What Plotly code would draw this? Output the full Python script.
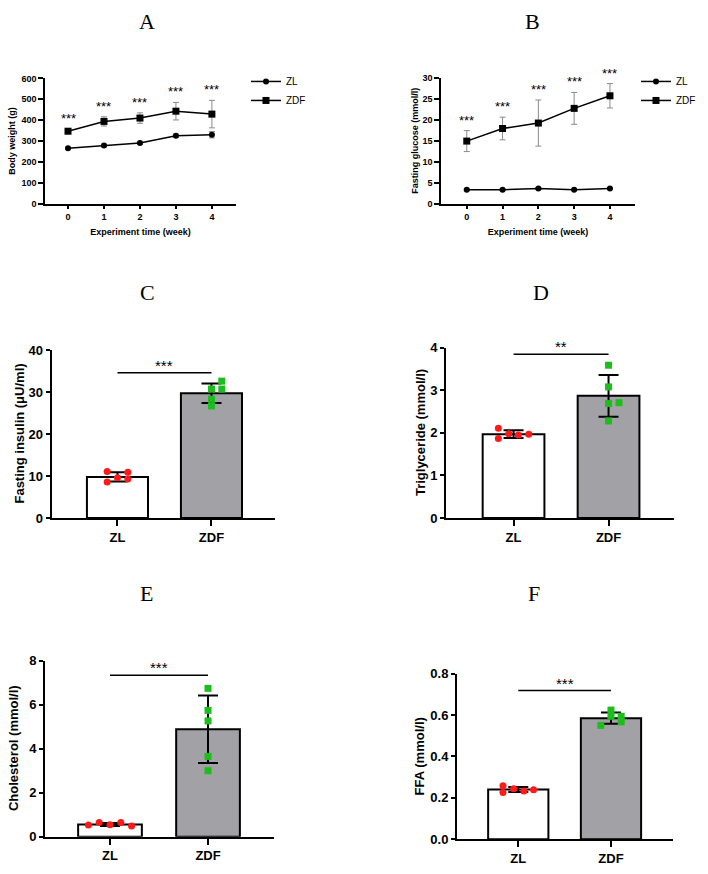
import plotly.graph_objects as go

W, H = 708, 874

# ---- A: body weight (g) by week
weeks = [0, 1, 2, 3, 4]
bw_zl = [265, 278, 290, 325, 330]
bw_zl_sd = [5, 6, 6, 8, 15]
bw_zdf = [347, 394, 410, 443, 429]
bw_zdf_sd = [11, 22, 25, 42, 66]

# ---- B: fasting glucose (mmol/l) by week
glu_zl = [3.3, 3.3, 3.6, 3.3, 3.6]
glu_zl_sd = [0.2, 0.2, 0.2, 0.2, 0.2]
glu_zdf = [14.9, 17.9, 19.2, 22.7, 25.7]
glu_zdf_sd = [2.5, 2.7, 5.5, 3.8, 2.9]

groups = ["ZL", "ZDF"]

# ---- C: fasting insulin (uU/ml)
ins_mean = [9.8, 29.7]
ins_sd = [1.1, 2.3]
ins_zl = [11.1, 10.9, 9.6, 9.3, 8.6]
ins_zdf = [32.6, 30.7, 30.7, 28.3, 26.7]
ins_sig = 34.6

# ---- D: triglyceride (mmol/l)
tg_mean = [1.97, 2.87]
tg_sd = [0.09, 0.49]
tg_zl = [2.11, 1.98, 1.95, 1.97, 1.87]
tg_zdf = [3.59, 3.08, 2.69, 2.71, 2.28]
tg_sig = 3.85

# ---- E: cholesterol (mmol/l)
ch_mean = [0.56, 4.88]
ch_sd = [0.07, 1.53]
ch_zl = [0.54, 0.65, 0.55, 0.65, 0.49]
ch_zdf = [6.74, 5.74, 5.26, 3.65, 3.00]
ch_sig = 7.33

# ---- F: FFA (mmol/l)
ffa_mean = [0.24, 0.585]
ffa_sd = [0.012, 0.027]
ffa_zl = [0.258, 0.244, 0.225, 0.233, 0.239]
ffa_zdf = [0.624, 0.594, 0.594, 0.550, 0.567]
ffa_sig = 0.718

FONT = "Liberation Sans, Arial, sans-serif"
SERIF = "Liberation Serif, Times New Roman, serif"
ZDF_GREY = "#a2a2a6"
RED = "#ff1a1a"
GREEN = "#1dbd1d"


def dom_x(a, b):
    return [a / W, b / W]


def dom_y(top, bottom):
    return [1 - bottom / H, 1 - top / H]


fig = go.Figure()

# ---------------- line panels ----------------
line_panels = [
    # axis id, zl, zl sd, zdf, zdf sd, legend
    ("", bw_zl, bw_zl_sd, bw_zdf, bw_zdf_sd, "legend"),
    ("2", glu_zl, glu_zl_sd, glu_zdf, glu_zdf_sd, "legend2"),
]
for ax, zl, zl_sd, zdf, zdf_sd, leg in line_panels:
    fig.add_trace(go.Scatter(
        x=weeks, y=zl, name="ZL", mode="lines+markers",
        line=dict(color="black", width=1.5),
        marker=dict(symbol="circle", size=6, color="black"),
        error_y=dict(type="data", array=zl_sd, color="#8a8a8a", thickness=1, width=3),
        xaxis="x" + ax, yaxis="y" + ax, legend=leg, cliponaxis=False))
    fig.add_trace(go.Scatter(
        x=weeks, y=zdf, name="ZDF", mode="lines+markers",
        line=dict(color="black", width=1.5),
        marker=dict(symbol="square", size=7, color="black"),
        error_y=dict(type="data", array=zdf_sd, color="#8a8a8a", thickness=1, width=3),
        xaxis="x" + ax, yaxis="y" + ax, legend=leg, cliponaxis=False))
    for wk, m, s in zip(weeks, zdf, zdf_sd):
        fig.add_annotation(x=wk, y=m + s, xref="x" + ax, yref="y" + ax,
                           text="***", showarrow=False, yanchor="bottom", yshift=1,
                           font=dict(family=FONT, size=13, color="black"))

# ---------------- bar panels ----------------
bar_panels = [
    ("3", ins_mean, ins_sd, ins_zl, ins_zdf, ins_sig, "***",
     [-0.11, 0.11, 0, 0.11, -0.11], [0.11, 0, 0.11, 0, 0]),
    ("4", tg_mean, tg_sd, tg_zl, tg_zdf, tg_sig, "**",
     [-0.16, -0.05, 0.05, 0.16, -0.16], [0, 0, 0, 0.11, 0]),
    ("5", ch_mean, ch_sd, ch_zl, ch_zdf, ch_sig, "***",
     [-0.22, -0.11, 0, 0.11, 0.22], [0, 0, 0, 0, 0]),
    ("6", ffa_mean, ffa_sd, ffa_zl, ffa_zdf, ffa_sig, "***",
     [-0.165, -0.05, -0.165, 0.06, 0.165], [0, 0, 0.11, -0.11, 0.11]),
]
for ax, mean, sd, zl, zdf, sig, stars, jit_zl, jit_zdf in bar_panels:
    xs = list(range(len(groups)))
    fig.add_trace(go.Bar(
        x=xs, y=mean, width=0.65, showlegend=False,
        marker=dict(color=["white", ZDF_GREY], line=dict(color="black", width=2)),
        error_y=dict(type="data", array=sd, color="black", thickness=2, width=10),
        xaxis="x" + ax, yaxis="y" + ax))
    fig.add_trace(go.Scatter(
        x=[0 + j for j in jit_zl], y=zl, mode="markers", showlegend=False,
        marker=dict(symbol="circle", size=7, color=RED),
        xaxis="x" + ax, yaxis="y" + ax, cliponaxis=False))
    fig.add_trace(go.Scatter(
        x=[1 + j for j in jit_zdf], y=zdf, mode="markers", showlegend=False,
        marker=dict(symbol="square", size=7, color=GREEN),
        xaxis="x" + ax, yaxis="y" + ax, cliponaxis=False))
    fig.add_trace(go.Scatter(
        x=xs, y=[sig, sig], mode="lines", showlegend=False,
        line=dict(color="black", width=1.5),
        xaxis="x" + ax, yaxis="y" + ax, cliponaxis=False))
    fig.add_annotation(x=0.5, y=sig, xref="x" + ax, yref="y" + ax,
                       text=stars, showarrow=False, yanchor="bottom", yshift=-3,
                       font=dict(family=FONT, size=15, color="black"))

# ---------------- axes ----------------
small_tick = dict(family=FONT, size=9, color="black", weight="bold")
big_tick = dict(family=FONT, size=13, color="black", weight="bold")
common = dict(showgrid=False, zeroline=False, showline=True, linecolor="black",
              ticks="outside", tickcolor="black")

fig.update_layout(
    xaxis=dict(common, domain=dom_x(45, 236), range=[-0.64, 4.67], tickvals=weeks,
               ticklen=4, linewidth=1.5, tickwidth=1.5, tickfont=small_tick, anchor="y",
               title=dict(text="Experiment time (week)", font=small_tick, standoff=8)),
    yaxis=dict(common, domain=dom_y(72.7, 200), range=[0, 600], dtick=100,
               ticklen=5, linewidth=1.5, tickwidth=1.5, tickfont=small_tick, anchor="x"),
    xaxis2=dict(common, domain=dom_x(441, 635), range=[-0.72, 4.70], tickvals=weeks,
                ticklen=4, linewidth=1.5, tickwidth=1.5, tickfont=small_tick, anchor="y2",
                title=dict(text="Experiment time (week)", font=small_tick, standoff=8)),
    yaxis2=dict(common, domain=dom_y(72, 200), range=[0, 30], dtick=5,
                ticklen=5, linewidth=1.5, tickwidth=1.5, tickfont=small_tick, anchor="x2"),
)

bar_axes = [
    ("3", dom_x(51.5, 275), [-0.702, 1.676], dom_y(349, 520), [0, 40], 10, None),
    ("4", dom_x(446, 674), [-0.711, 1.689], dom_y(346.7, 520), [0, 4], 1, None),
    ("5", dom_x(45, 274), [-0.663, 1.673], dom_y(665, 844.3), [0, 8], 2, None),
    ("6", dom_x(457, 673), [-0.661, 1.669], dom_y(678.3, 846.7), [0, 0.8], 0.2, ".1f"),
]
for ax, xd, xr, yd, yr, dt, fmt in bar_axes:
    fig.update_layout({
        "xaxis" + ax: dict(common, domain=xd, range=xr, tickvals=[0, 1], ticktext=groups,
                           ticklen=6, linewidth=2, tickwidth=2, tickfont=big_tick,
                           anchor="y" + ax),
        "yaxis" + ax: dict(common, domain=yd, range=yr, dtick=dt, tickformat=fmt,
                           ticklen=4, linewidth=2, tickwidth=2, tickfont=big_tick,
                           anchor="x" + ax),
    })

# y-axis titles, placed beside each panel
y_titles = [
    ("Body weight (g)", 12, 136, small_tick),
    ("Fasting glucose (mmol/l)", 415, 136, small_tick),
    ("Fasting insulin (μU/ml)", 19.5, 434.5, big_tick),
    ("Triglyceride (mmol/l)", 420, 433.5, big_tick),
    ("Cholesterol (mmol/l)", 13.5, 754.5, big_tick),
    ("FFA (mmol/l)", 419, 762.5, big_tick),
]
for txt, px, py, f in y_titles:
    fig.add_annotation(x=px / W, y=1 - py / H, xref="paper", yref="paper",
                       text=txt, textangle=-90, showarrow=False,
                       xanchor="center", yanchor="middle", font=f)

# ---------------- panel letters ----------------
letters = [("A", 147, 15), ("B", 532, 15), ("C", 147, 290),
           ("D", 541, 290), ("E", 146, 597), ("F", 534, 597)]
for txt, px, py in letters:
    fig.add_annotation(x=px / W, y=1 - py / H, xref="paper", yref="paper",
                       text=txt, showarrow=False, xanchor="center", yanchor="middle",
                       font=dict(family=SERIF, size=22, color="black"))

legend_style = dict(font=dict(family=FONT, size=10, color="black"),
                    bgcolor="rgba(0,0,0,0)", xanchor="left", yanchor="top",
                    tracegroupgap=0, itemwidth=30)
fig.update_layout(
    width=W, height=H, margin=dict(l=0, r=0, t=0, b=0),
    paper_bgcolor="white", plot_bgcolor="white",
    font=dict(family=FONT, color="black"),
    legend=dict(legend_style, x=246 / W, y=1 - 61 / H),
    legend2=dict(legend_style, x=636 / W, y=1 - 61 / H),
)

fig.write_html("out.html", config={"displayModeBar": False},
               post_script="document.body.style.margin = '0';")
